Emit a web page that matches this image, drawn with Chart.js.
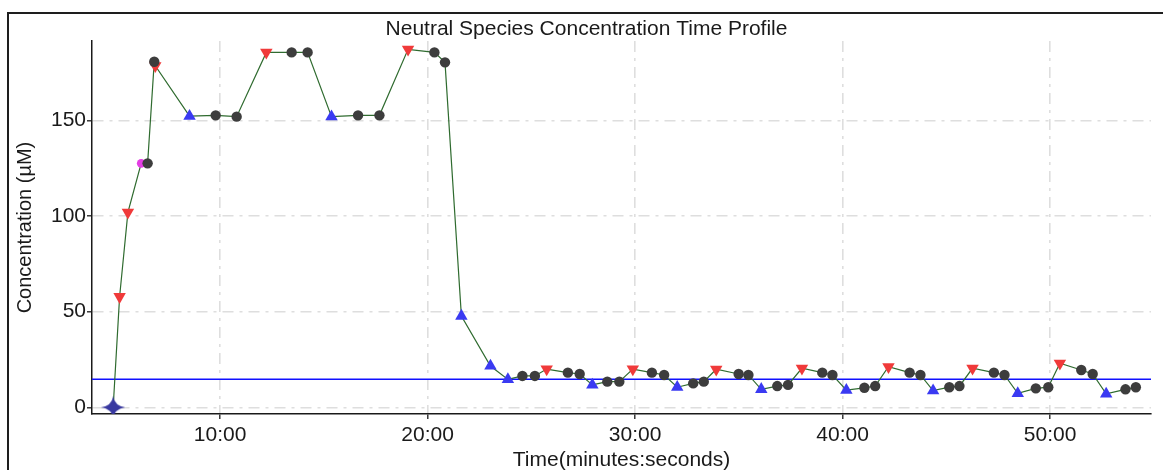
<!DOCTYPE html>
<html lang="en">
<head>
<title>Neutral Species Concentration Time Profile</title>
<meta charset="utf-8"/>
<script src="https://cdn.jsdelivr.net/npm/chart.js@4"></script>
<style>
html, body {
  margin: 0;
  padding: 0;
  background: #fff;
  overflow: hidden;
}
#wrap {
  position: relative;
  width: 1163px;
  height: 470px;
}
#frame {
  position: absolute;
  left: 7px;
  top: 12px;
  width: 1200px;
  height: 500px;
  border-top: 2px solid #1e1e1e;
  border-left: 2px solid #1e1e1e;
}
#chart {
  position: absolute;
  left: 0;
  top: 0;
}
</style>
</head>
<body>
<div id="wrap">
  <div id="frame"></div>
  <canvas id="chart" width="1163" height="470"></canvas>
</div>
<script>
"use strict";

// time in minutes, concentration in µM
const blankTime = [4.85];
const blankConc = [0];

const spikeTime = [6.20];
const spikeConc = [127.5];

const sampleTime = [6.51, 6.83, 9.79, 10.80, 13.45, 14.22, 16.65, 17.68, 20.33, 20.84,
  24.57, 25.17, 26.76, 27.33, 28.66, 29.24, 30.81, 31.40, 32.80, 33.31,
  34.99, 35.46, 36.85, 37.37, 39.02, 39.51, 41.05, 41.57, 43.23, 43.75,
  45.14, 45.63, 47.29, 47.80, 49.31, 49.91, 51.50, 52.05, 53.63, 54.13];
const sampleConc = [127.5, 180.6, 152.6, 151.9, 185.5, 185.5, 152.6, 152.6, 185.5, 180.3,
  16.4, 16.4, 18.1, 17.4, 13.4, 13.4, 18.1, 16.9, 12.5, 13.4,
  17.4, 16.9, 11.1, 11.7, 18.1, 16.9, 10.2, 11.1, 18.1, 16.9,
  10.5, 11.1, 18.1, 16.9, 9.9, 10.5, 19.5, 17.4, 9.4, 10.5];

const highTime = [5.16, 5.56, 6.88, 12.23, 19.06, 25.74, 29.89, 33.91, 38.04, 42.21, 46.26, 50.47];
const highConc = [57.8, 101.9, 178.5, 185.5, 187.1, 20.0, 20.0, 19.9, 20.4, 21.2, 20.4, 23.0];

const lowTime = [8.53, 15.37, 21.63, 23.03, 23.87, 27.94, 32.03, 36.08, 40.18, 44.36, 48.44, 52.70];
const lowConc = [152.2, 151.9, 47.7, 21.6, 14.6, 11.7, 10.5, 9.4, 9.0, 8.7, 7.3, 7.0];

const limitConc = 14.6;

const xTicks = [10, 20, 30, 40, 50];
const yTicks = [0, 50, 100, 150];

const X_MIN = 3.83, X_MAX = 54.86;
const Y_MIN = -3.5, Y_MAX = 191.4;

const FONT = "'Liberation Sans', Arial, sans-serif";

function pts(xs, ys){
  return xs.map((x, i) => ({x: x, y: ys[i]}));
}

// all points joined by the profile line, in time order
const profile = [].concat(
  pts(blankTime, blankConc), pts(spikeTime, spikeConc), pts(sampleTime, sampleConc),
  pts(highTime, highConc), pts(lowTime, lowConc)
).sort((a, b) => a.x - b.x);

// filled four point star for the blank
function makeStar(){
  const c = document.createElement("canvas");
  c.width = 24;
  c.height = 22;
  const g = c.getContext("2d");
  g.fillStyle = "#3838a0";
  g.beginPath();
  g.moveTo(12, 0);
  g.quadraticCurveTo(13.5, 9.5, 24, 11);
  g.quadraticCurveTo(13.5, 12.5, 12, 22);
  g.quadraticCurveTo(10.5, 12.5, 0, 11);
  g.quadraticCurveTo(10.5, 9.5, 12, 0);
  g.closePath();
  g.fill();
  g.beginPath();
  g.arc(12, 11, 4.5, 0, Math.PI * 2);
  g.fill();
  return c;
}

new Chart(document.getElementById("chart"), {
  type: "scatter",
  data: {
    datasets: [
      {
        data: pts(blankTime, blankConc),
        pointStyle: makeStar(),
        pointRadius: 11
      },
      {
        data: pts(sampleTime, sampleConc),
        pointStyle: "circle",
        pointRadius: 5.2,
        backgroundColor: "#3d3d3d",
        borderColor: "#3d3d3d",
        borderWidth: 0
      },
      {
        data: pts(spikeTime, spikeConc),
        pointStyle: "circle",
        pointRadius: 4.3,
        backgroundColor: "#e43ee4",
        borderColor: "#e43ee4",
        borderWidth: 0
      },
      {
        data: pts(highTime, highConc),
        pointStyle: "triangle",
        rotation: 180,
        pointRadius: 7.2,
        backgroundColor: "#f03a3a",
        borderColor: "#f03a3a",
        borderWidth: 0
      },
      {
        data: pts(lowTime, lowConc),
        pointStyle: "triangle",
        pointRadius: 7.2,
        backgroundColor: "#3a3af2",
        borderColor: "#3a3af2",
        borderWidth: 0
      },
      {
        type: "line",
        data: profile,
        borderColor: "#2f6b2f",
        borderWidth: 1.2,
        pointRadius: 0,
        tension: 0
      },
      {
        type: "line",
        data: [{x: X_MIN, y: limitConc}, {x: X_MAX, y: limitConc}],
        borderColor: "#1010ff",
        borderWidth: 1.5,
        pointRadius: 0
      }
    ]
  },
  options: {
    responsive: false,
    animation: false,
    events: [],
    layout: {
      padding: {left: 10, right: 0, top: 13, bottom: 0}
    },
    plugins: {
      legend: {display: false},
      tooltip: {enabled: false},
      title: {
        display: true,
        text: "Neutral Species Concentration Time Profile",
        color: "#1a1a1a",
        font: {family: FONT, size: 21, weight: "normal", lineHeight: 1.1},
        padding: {top: 5, bottom: 0}
      }
    },
    scales: {
      x: {
        type: "linear",
        min: X_MIN,
        max: X_MAX,
        afterFit: (s) => { s.height = 56; },
        afterBuildTicks: (s) => { s.ticks = xTicks.map(v => ({value: v})); },
        ticks: {
          color: "#1a1a1a",
          font: {family: FONT, size: 21},
          padding: 4,
          maxRotation: 0,
          callback: (v) => v + ":00"
        },
        grid: {
          color: "#dedede",
          lineWidth: 1.6,
          tickLength: 5,
          tickColor: "#1a1a1a",
          tickWidth: 1.3
        },
        border: {
          color: "#1a1a1a",
          width: 1.5,
          dash: [11, 6, 3, 6]
        },
        title: {
          display: true,
          text: "Time(minutes:seconds)",
          color: "#1a1a1a",
          font: {family: FONT, size: 21, lineHeight: 1},
          padding: {top: 0, bottom: -1}
        }
      },
      y: {
        type: "linear",
        min: Y_MIN,
        max: Y_MAX,
        afterFit: (s) => { s.width = 82; },
        afterBuildTicks: (s) => { s.ticks = yTicks.map(v => ({value: v})); },
        ticks: {
          color: "#1a1a1a",
          font: {family: FONT, size: 21},
          padding: 1
        },
        grid: {
          color: "#dedede",
          lineWidth: 1.6,
          tickLength: 5,
          tickColor: "#1a1a1a",
          tickWidth: 1.3
        },
        border: {
          color: "#1a1a1a",
          width: 1.5,
          dash: [11, 6, 3, 6]
        },
        title: {
          display: true,
          text: "Concentration (µM)",
          color: "#1a1a1a",
          font: {family: FONT, size: 20, lineHeight: 1.2},
          padding: {top: 3, bottom: 0}
        }
      }
    }
  }
});
</script>
</body>
</html>
